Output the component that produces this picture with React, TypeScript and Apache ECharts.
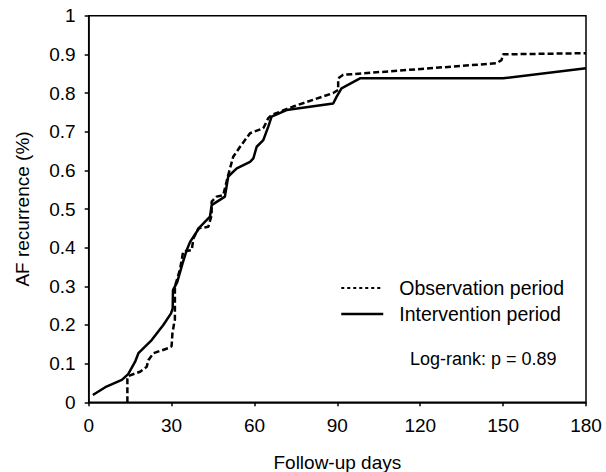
import React, { useEffect, useRef } from "react";
import * as echarts from "echarts";

const xTicks = [0, 30, 60, 90, 120, 150, 180];
const yTickStep = 0.1;

const seriesNames = ["Observation period", "Intervention period"];

const obsDays = [14, 14, 14.3, 18.6, 21, 21.6, 23.4, 28.8, 30, 30.3, 31, 31.2, 31.2, 33, 34.2, 37.3, 37.9, 39.7, 43.3, 44.5, 44.5, 46.3, 48.7, 50.5, 52.3, 54.8, 58.4, 63.2, 65, 66.2, 74, 88.5, 90.3, 90.3, 92.1, 99.4, 123.5, 147.6, 149.4, 150, 180];
const obsValues = [0, 0.06, 0.068, 0.079, 0.092, 0.109, 0.127, 0.14, 0.145, 0.178, 0.208, 0.213, 0.3, 0.342, 0.39, 0.394, 0.424, 0.45, 0.454, 0.484, 0.519, 0.532, 0.536, 0.588, 0.635, 0.661, 0.696, 0.709, 0.735, 0.743, 0.765, 0.8, 0.808, 0.838, 0.847, 0.851, 0.864, 0.877, 0.885, 0.9, 0.903];

const intDays = [1.5, 6, 12, 14.3, 16.8, 18, 22.8, 27, 29.8, 30.4, 30.5, 32, 34, 35.5, 36.7, 40.3, 43.9, 44.5, 49.3, 50.5, 53.6, 58.4, 59.6, 60.8, 63.2, 65, 66.2, 71.6, 88.5, 89.7, 91.5, 98.2, 150, 180];
const intValues = [0.019, 0.039, 0.058, 0.073, 0.105, 0.127, 0.161, 0.2, 0.23, 0.243, 0.29, 0.31, 0.36, 0.394, 0.415, 0.454, 0.48, 0.51, 0.532, 0.584, 0.605, 0.622, 0.631, 0.661, 0.678, 0.713, 0.739, 0.756, 0.773, 0.79, 0.812, 0.838, 0.838, 0.864];

const annotation = "Log-rank: p = 0.89";

const FONT = "'Liberation Sans', Arial, sans-serif";

export default function App() {
  const ref = useRef<HTMLDivElement>(null);
  useEffect(() => {
    if (!ref.current) return;
    document.body.style.margin = "0";
    const chart = echarts.init(ref.current, undefined, { renderer: "svg" });
    const zip = (xs: number[], ys: number[]) => xs.map((x, i) => [x, ys[i]]);
    const hiddenSymbol = { color: "transparent", borderColor: "transparent", borderWidth: 0 };
    chart.setOption({
      animation: false,
      backgroundColor: "#fff",
      textStyle: { fontFamily: FONT },
      grid: {
        left: 88.7,
        right: 20,
        top: 15.7,
        bottom: 69.7,
        containLabel: false,
        outerBoundsMode: "none",
        show: true,
        borderColor: "#000",
        borderWidth: 1.5,
      },
      legend: {
        orient: "vertical",
        left: 340,
        top: 278,
        padding: 0,
        itemWidth: 42,
        itemHeight: 14,
        itemGap: 6,
        textStyle: {
          fontFamily: FONT,
          fontSize: 19.5,
          color: "#000",
          lineHeight: 20,
          padding: [0, 0, 0, 11],
        },
        data: [
          { name: seriesNames[0], itemStyle: hiddenSymbol, lineStyle: { type: [3, 3], width: 2, color: "#000" } },
          { name: seriesNames[1], itemStyle: hiddenSymbol, lineStyle: { width: 2.5, color: "#000" } },
        ],
      },
      xAxis: {
        type: "value",
        min: xTicks[0],
        max: xTicks[xTicks.length - 1],
        interval: xTicks[1] - xTicks[0],
        name: "Follow-up days",
        nameLocation: "middle",
        nameGap: 51,
        nameTextStyle: { fontFamily: FONT, fontSize: 19, color: "#000" },
        axisLine: { show: true, lineStyle: { color: "#000", width: 1.5 } },
        axisTick: { show: true, inside: false, length: 4, lineStyle: { color: "#000", width: 1.5 } },
        axisLabel: { fontFamily: FONT, fontSize: 19, color: "#000", margin: 14 },
        splitLine: { show: false },
      },
      yAxis: {
        type: "value",
        min: 0,
        max: 1,
        interval: yTickStep,
        name: "AF recurrence (%)",
        nameLocation: "middle",
        nameGap: 57,
        nameTextStyle: { fontFamily: FONT, fontSize: 19, color: "#000" },
        axisLine: { show: true, lineStyle: { color: "#000", width: 1.5 } },
        axisTick: { show: true, inside: false, length: 4, lineStyle: { color: "#000", width: 1.5 } },
        axisLabel: {
          fontFamily: FONT,
          fontSize: 19,
          color: "#000",
          margin: 13,
          formatter: (v: number) => String(+v.toFixed(1)),
        },
        splitLine: { show: false },
      },
      series: [
        {
          name: seriesNames[0],
          type: "line",
          data: zip(obsDays, obsValues),
          symbol: "none",
          showSymbol: false,
          lineStyle: { color: "#000", width: 2.5, type: [6, 3] },
          itemStyle: { color: "#000" },
          z: 3,
        },
        {
          name: seriesNames[1],
          type: "line",
          data: zip(intDays, intValues),
          symbol: "none",
          showSymbol: false,
          lineStyle: { color: "#000", width: 2.5, type: "solid" },
          itemStyle: { color: "#000" },
          z: 2,
        },
      ],
      graphic: [
        {
          type: "text",
          left: 410,
          top: 350,
          style: {
            text: annotation,
            fontFamily: FONT,
            fontSize: 18,
            fill: "#000",
          },
        },
      ],
    });
    return () => chart.dispose();
  }, []);
  return <div ref={ref} style={{ width: 606, height: 472 }} />;
}
